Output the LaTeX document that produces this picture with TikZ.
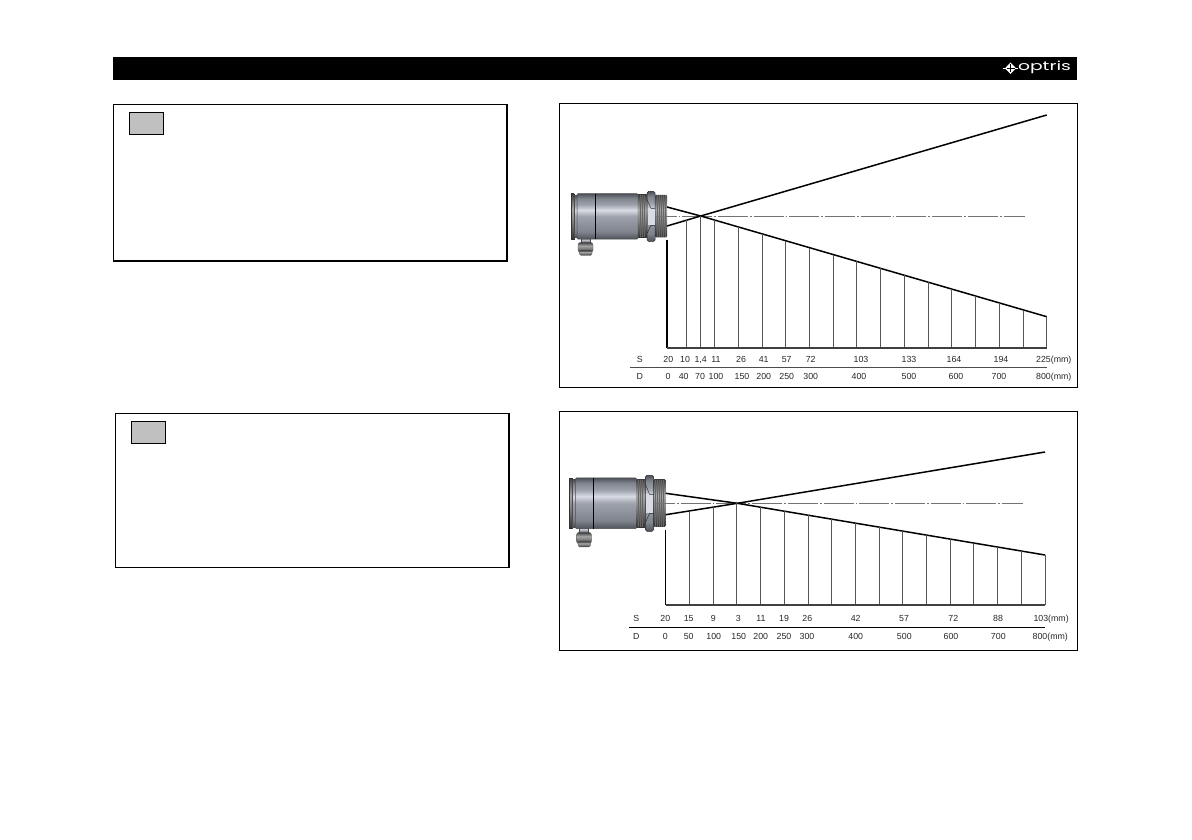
\documentclass[tikz,border=0pt]{standalone}
\usepackage{fontspec}
\setmainfont{Liberation Sans}
\newfontfamily\logofont{Poppins}
\usetikzlibrary{positioning}
\definecolor{boxgray}{HTML}{C0C0C0}
\definecolor{rulegray}{HTML}{555555}
\definecolor{metalA}{HTML}{4E5158}
\definecolor{metalB}{HTML}{7F848D}
\definecolor{metalC}{HTML}{9DA2AC}
\definecolor{metalD}{HTML}{D9DCE4}
\pgfdeclareverticalshading{metal}{100bp}{color(0bp)=(metalA); color(25bp)=(metalA);
  color(33bp)=(metalB); color(50bp)=(metalC); color(57bp)=(metalD); color(63bp)=(metalC); color(70bp)=(metalB); color(75bp)=(metalA); color(100bp)=(metalA)}
\pgfdeclareverticalshading{thread}{100bp}{color(0bp)=(black!80); color(25bp)=(black!80);
  color(45bp)=(black!50); color(58bp)=(black!35); color(75bp)=(black!75); color(100bp)=(black!75)}
\newcommand\sensorbody{
  % connector below the housing
  \shade[shading=metal, draw=black!70, line width=0.3pt] (581,21) rectangle (590,27);
  \shade[shading=thread, draw=black!70, line width=0.3pt, rounded corners=2.5pt] (578,26) rectangle (593,36);
  \shade[shading=thread, draw=black!70, line width=0.3pt, rounded corners=1.5pt] (579.5,34) rectangle (592,39);
  % housing
  \shade[shading=thread, draw=black!80, line width=0.4pt] (571,-22.5) rectangle (574,22.5);
  \shade[shading=metal, draw=black!70, line width=0.4pt] (574,-21) rectangle (578,21);
  \shade[shading=metal, draw=black!70, line width=0.5pt, rounded corners=1pt] (577,-22.7) rectangle (638,22.7);
  \draw[black, line width=0.7pt] (595,-22.7) -- (595,22.7);
  \shade[shading=thread] (638,-21.5) rectangle (647,21.5);
  \shade[shading=thread, rounded corners=1pt] (655,-21.5) rectangle (667,21);
  \foreach \xt in {640,642,644,657,659,661,663,665}
    \draw[black!60, line width=0.25pt] (\xt,-21) -- (\xt,21);
  % nut
  \shade[shading=metal, draw=black!85, line width=0.5pt, rounded corners=1.5pt] (647,-25) rectangle (655,25);
  \fill[metalD] (647.5,-8) -- (654.5,-8) -- (654.5,9) -- (647.5,9) -- cycle;
  \draw[black!85, line width=0.4pt] (647,-17) -- (651,-8) -- (655,-8) (647,17) -- (651,9) -- (655,9);
}
\newcommand\dropline[5]{% x, base, crossing x, crossing y, slope
  \pgfmathsetmacro\ytop{#4+abs(#1-#3)*#5}
  \draw[rulegray, line width=0.8pt] (#1,#2) -- (#1,\ytop);
}
\begin{document}
\begin{tikzpicture}[x=1pt, y=-1pt,
    notebox/.style = {rectangle, draw=black, line width=1.1pt, inner sep=0pt},
    graybox/.style = {rectangle, draw=black, fill=boxgray, line width=0.9pt, inner sep=0pt,
      minimum width=34pt, minimum height=22.4pt},
    plotbox/.style = {rectangle, draw=black, line width=1pt, inner sep=0pt, minimum width=518pt},
    beam/.style = {draw=black, line width=1.5pt},
    axisline/.style = {draw=black!75, line width=1.4pt},
    centerline/.style = {draw=black!55, line width=0.7pt,
      dash pattern=on 30pt off 2pt on 1.7pt off 2pt, dash phase=8.5pt},
    val/.style = {font=\fontsize{8.8}{10}\selectfont, text=black!85, inner sep=0pt,
      text height=6.3pt, text depth=0pt}]
  \useasboundingbox (0,0) rectangle (1192,840);
  % header bar
  \node [rectangle, fill=black, inner sep=0pt, minimum width=964pt, minimum height=23pt] (header) at (595,68.5) {};
  \node [text=white, inner sep=0pt, font=\logofont\fontsize{12.5}{13}\selectfont, xscale=1.5] (logotext) at (1044.5,67.3) {optris};
  \fill[white] (1010.5,62.5) -- (1016,68.3) -- (1010.5,74) -- (1005,68.3) -- cycle;
  \draw[white, line width=0.8pt] (1003,68.3) -- (1018,68.3);
  \draw[black, line width=0.6pt] (1010.5,64) -- (1010.5,72.5) (1006.5,68.3) -- (1014.5,68.3);
  % left note boxes
  \node [notebox, minimum width=393pt, minimum height=155.7pt] (noteA) at (309.8,182.2) {};
  \draw[black, line width=2.2pt] (noteA.north east) -- (noteA.south east) -- (noteA.south west);
  \node [graybox] (tagA) at (146.3,123.5) {};
  \node [notebox, minimum width=393.4pt, minimum height=154pt] (noteB) at (312,490.7) {};
  \draw[black, line width=1.8pt] (noteB.north east) -- (noteB.south east);
  \node [graybox] (tagB) at (148.5,432.5) {};
  % upper plot
  \node [plotbox, minimum height=283.5pt] (plotA) at (818,245.3) {};
  \begin{scope}[shift={(0,216.4)}]
    \sensorbody
  \end{scope}
  \draw[centerline] (655,216.5) -- (1025,216.5);
  \draw[beam] (667,226) -- (700.7,216) -- (1046.7,115);
  \draw[beam] (667,207) -- (700.7,216) -- (1046.7,316.7);
  \foreach \d in {40,70,100,150,200,250,300,350,400,450,500,550,600,650,700,750,800} {
    \pgfmathsetmacro\xd{667+0.4746*\d}
    \dropline{\xd}{348}{700.7}{216}{0.291}
  }
  \draw[black, line width=1.4pt] (667,240) -- (667,348);
  \draw[axisline] (667,348) -- (1046.7,348);
  \draw[black!70, line width=0.8pt] (630,367.7) -- (1046.7,367.7);
  \node [val] (sA) at (639.7,359.7) {S};
  \node [val] (dA) at (639.7,376) {D};
  \foreach \x/\t [count=\i] in {668.3/20,685/10,700.7/{1,4},716/11,741/26,763.7/41,786.7/57,810.7/72,861/103,909/133,954/164,1001/194}
    \node [val] (sA-\i) at (\x,359.7) {\t};
  \foreach \x/\t [count=\i] in {668/0,683.7/40,700/70,716/100,742/150,763.7/200,786.7/250,810.7/300,859/400,909/500,956/600,999/700}
    \node [val] (dA-\i) at (\x,376) {\t};
  \node [val, anchor=west] (sA-end) at (1036,359.7) {225(mm)};
  \node [val, anchor=west] (dA-end) at (1036,376) {800(mm)};
  % lower plot
  \node [plotbox, minimum height=238.6pt] (plotB) at (818,531) {};
  \begin{scope}[shift={(-1.5,503.3)}, yscale=1.12]
    \sensorbody
  \end{scope}
  \draw[centerline] (653.5,503.3) -- (1023,503.3);
  \draw[beam] (665.7,514.7) -- (737.3,503.3) -- (1045,452);
  \draw[beam] (665.7,493.3) -- (737.3,503.3) -- (1045,555);
  \foreach \d in {50,100,...,800} {
    \pgfmathsetmacro\xd{665.7+0.4741*\d}
    \dropline{\xd}{605}{737.3}{503.3}{0.168}
  }
  \draw[black, line width=1.4pt] (665.7,530) -- (665.7,605);
  \draw[axisline] (665.7,605) -- (1045,605);
  \draw[black, line width=1.6pt] (629,627.3) -- (1045,627.3);
  \node [val] (sB) at (636.3,618.7) {S};
  \node [val] (dB) at (636.3,636.7) {D};
  \foreach \x/\t [count=\i] in {665.3/20,688.7/15,713.3/9,738.3/3,761/11,784/19,807.3/26,855.7/42,904/57,953.3/72,998/88}
    \node [val] (sB-\i) at (\x,618.7) {\t};
  \foreach \x/\t [count=\i] in {665.3/0,688.7/50,713.7/100,738.7/150,760.7/200,784/250,807/300,855.7/400,904.3/500,951/600,998.3/700}
    \node [val] (dB-\i) at (\x,636.7) {\t};
  \node [val, anchor=west] (sB-end) at (1033.3,618.7) {103(mm)};
  \node [val, anchor=west] (dB-end) at (1032.5,636.7) {800(mm)};
\end{tikzpicture}
\end{document}
